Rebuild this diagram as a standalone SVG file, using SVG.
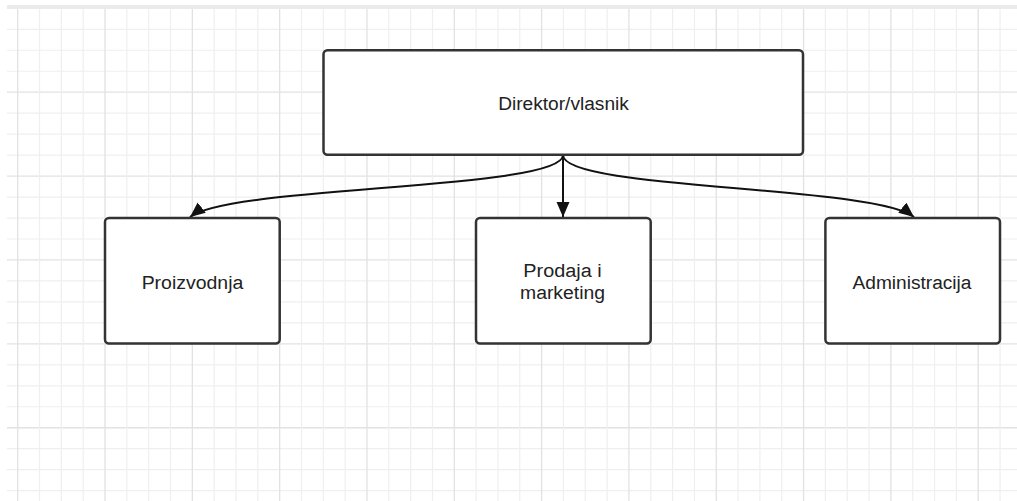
<svg xmlns="http://www.w3.org/2000/svg" width="1017" height="501" viewBox="0 0 1017 501">
<defs>
<style>
.minor{stroke:#efefef;stroke-width:1.2;fill:none}
.major{stroke:#e2e2e2;stroke-width:1.3;fill:none}
.box{fill:#ffffff;stroke:#333333;stroke-width:2.5}
.lbl{font-family:"Liberation Sans",Arial,sans-serif;font-size:18px;fill:#222222;text-anchor:middle}
.conn{fill:none;stroke:#111111;stroke-width:2}
</style>
<marker id="arr" markerUnits="userSpaceOnUse" markerWidth="16" markerHeight="14" refX="15" refY="6.5" orient="auto">
<path d="M0,0 L15,6.5 L0,13 Z" fill="#111111"/>
</marker>
</defs>
<rect width="1017" height="501" fill="#ffffff"/>
<g id="grid">
<rect x="7" y="5" width="1010" height="4" fill="#ebebeb"/>
<path class="minor" d="M7,29.3H1017M7,71.24H1017M7,113.18H1017M7,134.15H1017M7,155.12H1017M7,197.06H1017M7,218.03H1017M7,239H1017M7,280.94H1017M7,301.91H1017M7,322.88H1017M7,364.82H1017M7,385.79H1017M7,406.76H1017M7,448.7H1017M7,469.67H1017M7,490.64H1017M7,50.27H1017"/>
<path class="major" d="M7,92.21H1017M7,176.09H1017M7,259.97H1017M7,343.85H1017M7,427.73H1017"/>
<path class="minor" d="M39.53,9V501M61.36,9V501M83.19,9V501M126.85,9V501M148.68,9V501M170.51,9V501M214.17,9V501M236,9V501M257.83,9V501M301.49,9V501M323.32,9V501M345.15,9V501M388.81,9V501M410.64,9V501M432.47,9V501M476.13,9V501M497.96,9V501M519.79,9V501M563.45,9V501M585.28,9V501M607.11,9V501M650.77,9V501M672.6,9V501M694.43,9V501M738.09,9V501M759.92,9V501M781.75,9V501M825.41,9V501M847.24,9V501M869.07,9V501M912.73,9V501M934.56,9V501M956.39,9V501M1000.05,9V501"/>
<path class="major" d="M17.7,9V501M105.02,9V501M192.34,9V501M279.66,9V501M366.98,9V501M454.3,9V501M541.62,9V501M628.94,9V501M716.26,9V501M803.58,9V501M890.9,9V501M978.22,9V501"/>
</g>
<g id="connectors">
<path class="conn" d="M563,155 C563,190 230,185 190,217" marker-end="url(#arr)"/>
<path class="conn" d="M563,155 V217" marker-end="url(#arr)"/>
<path class="conn" d="M563,155 C563,190 874,185 914,217" marker-end="url(#arr)"/>
</g>
<g id="direktor">
<rect class="box" x="323.5" y="50.3" width="479.5" height="104.5" rx="4"/>
<text class="lbl" x="563.5" y="110" textLength="130.7" lengthAdjust="spacingAndGlyphs">Direktor/vlasnik</text>
</g>
<g id="proizvodnja">
<rect class="box" x="105" y="218" width="174.7" height="125.6" rx="4"/>
<text class="lbl" x="192.5" y="289" textLength="101.7" lengthAdjust="spacingAndGlyphs">Proizvodnja</text>
</g>
<g id="prodaja">
<rect class="box" x="476" y="218" width="174.7" height="125.6" rx="4"/>
<text class="lbl" x="562.5" y="277" textLength="78.3" lengthAdjust="spacingAndGlyphs">Prodaja i</text>
<text class="lbl" x="562.5" y="299" textLength="85" lengthAdjust="spacingAndGlyphs">marketing</text>
</g>
<g id="administracija">
<rect class="box" x="825.4" y="218" width="174.6" height="125.6" rx="4"/>
<text class="lbl" x="912" y="289" textLength="119" lengthAdjust="spacingAndGlyphs">Administracija</text>
</g>
</svg>
